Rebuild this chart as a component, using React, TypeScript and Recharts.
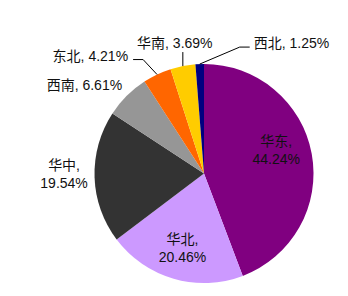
import { PieChart, Pie, Cell } from 'recharts';

const regions = ['华东', '华北', '华中', '西南', '东北', '华南', '西北'];
const shares = [44.24, 20.46, 19.54, 6.61, 4.21, 3.69, 1.25];
const colors = ['#800080', '#CC99FF', '#333333', '#969696', '#FF6600', '#FFCC00', '#000080'];

const data = regions.map((name, i) => ({ name, value: shares[i] }));

const FONT = '"Liberation Sans", Arial, "Noto Sans CJK SC", sans-serif';
const RAD = Math.PI / 180;

// where each label sits relative to its slice
type Placement = {
  r: number; // distance from centre, as offset from outer radius
  dx: number;
  dy: number;
  anchor: 'start' | 'middle' | 'end';
  split?: boolean;
  leader?: [number, number][];
};

const placements: Record<string, Placement> = {
  华东: { r: -32, dx: -4, dy: -10, anchor: 'middle', split: true },
  华北: { r: -32, dx: 0, dy: 0, anchor: 'middle', split: true },
  华中: { r: 30.5, dx: 0, dy: -4, anchor: 'middle', split: true },
  西南: { r: 8, dx: 1, dy: -5, anchor: 'end' },
  东北: { r: 0, dx: -5, dy: -4, anchor: 'end', leader: [[-14, -15], [-24, -15]] },
  华南: { r: 0, dx: -8, dy: -9, anchor: 'middle', leader: [[0, -14]] },
  西北: { r: 0, dx: 4, dy: -4, anchor: 'start', leader: [[40, -17], [50, -17]] },
};

const polar = (cx: number, cy: number, r: number, a: number) => [
  cx + r * Math.cos(-a * RAD),
  cy + r * Math.sin(-a * RAD),
];

function renderLabel(props: any) {
  const { cx, cy, midAngle, outerRadius, index } = props;
  const name = regions[index];
  const pct = `${shares[index].toFixed(2)}%`;
  const p = placements[name];
  let [x, y] = polar(cx, cy, outerRadius + p.r, midAngle);
  let line = null;
  if (p.leader) {
    const pts = [[x, y], ...p.leader.map(([lx, ly]) => [x + lx, y + ly])];
    line = (
      <polyline
        points={pts.map((q) => q.join(',')).join(' ')}
        fill="none"
        stroke="#000"
        strokeWidth={1}
      />
    );
    [x, y] = pts[pts.length - 1];
  }
  x += p.dx;
  y += p.dy;
  const textProps = {
    x,
    textAnchor: p.anchor,
    dominantBaseline: 'central' as const,
    fontSize: 14,
    fontFamily: FONT,
    fill: '#111',
  };
  return (
    <g key={`label-${index}`}>
      {line}
      {p.split ? (
        <>
          <text {...textProps} y={y - 9}>{`${name},`}</text>
          <text {...textProps} y={y + 9}>{pct}</text>
        </>
      ) : (
        <text {...textProps} y={y}>{`${name}, ${pct}`}</text>
      )}
    </g>
  );
}

export default function App() {
  return (
    <div style={{ position: 'fixed', left: 0, top: 0, width: 348, height: 296, background: '#fff' }}>
      <PieChart width={348} height={296} margin={{ top: 0, right: 0, bottom: 0, left: 0 }}>
        <Pie
          data={data}
          dataKey="value"
          nameKey="name"
          cx={204}
          cy={173.5}
          outerRadius={109.5}
          startAngle={90}
          endAngle={-270}
          stroke="none"
          label={renderLabel}
          labelLine={false}
          isAnimationActive={false}
        >
          {data.map((entry, i) => (
            <Cell key={entry.name} fill={colors[i]} />
          ))}
        </Pie>
      </PieChart>
    </div>
  );
}
